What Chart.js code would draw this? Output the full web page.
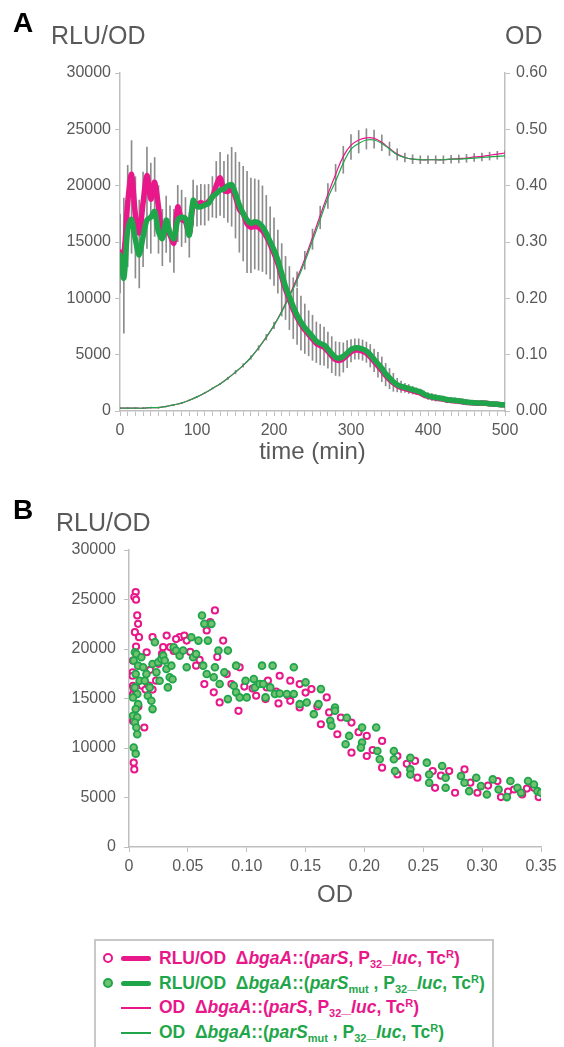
<!DOCTYPE html>
<html>
<head>
<meta charset="utf-8">
<script src="https://cdn.jsdelivr.net/npm/chart.js@4.4.0/dist/chart.umd.min.js"></script>
<style>
  body { margin: 0; background: #fff; width: 564px; height: 1047px; overflow: hidden; position: relative;
         font-family: "Liberation Sans", Arial, sans-serif; }
  canvas { position: absolute; left: 0; }
  #chartA { top: 0; }
  #chartB { top: 480px; }
  .lbl { position: absolute; white-space: nowrap; line-height: 1; }
  .panel { font-weight: bold; font-size: 28px; color: #000; }
  .ttl { font-size: 25px; color: #595959; }
  #legend { position: absolute; left: 94px; top: 939px; width: 400px; height: 130px;
            border: 2px solid #c8c8c8; box-sizing: border-box; background: #fff; }
  .row { position: absolute; left: 0; width: 396px; height: 24px; }
  .dot { position: absolute; left: 7px; top: 7px; width: 6px; height: 6px; border-radius: 50%; }
  .seg { position: absolute; left: 25px; width: 30px; }
  .txt { position: absolute; left: 63px; top: 0; line-height: 24px; font-size: 17.5px; font-weight: bold; white-space: nowrap; }
  .txt sub { font-size: 11px; vertical-align: -4px; line-height: 0; }
  .txt sup { font-size: 11px; vertical-align: 6px; line-height: 0; }
</style>
</head>
<body>
<canvas id="chartA" width="564" height="480"></canvas>
<canvas id="chartB" width="564" height="460"></canvas>

<div class="lbl panel" style="left:13px;top:9px;">A</div>
<div class="lbl ttl" style="left:51px;top:23px;">RLU/OD</div>
<div class="lbl ttl" style="left:505px;top:23px;">OD</div>
<div class="lbl panel" style="left:13px;top:496px;">B</div>
<div class="lbl ttl" style="left:56px;top:510px;">RLU/OD</div>

<div id="legend">
  <div class="row" style="top:5px;color:#e8178a;">
    <span class="dot" style="border:2px solid #e8178a;background:#fff;"></span>
    <span class="seg" style="top:10px;height:5px;background:#e8178a;border-radius:3px;"></span>
    <span class="txt">RLU/OD&nbsp;&nbsp;Δ<i>bgaA</i>::(<i>parS</i>, P<sub>32</sub>_<i>luc</i>, Tc<sup>R</sup>)</span>
  </div>
  <div class="row" style="top:30px;color:#1fa64a;">
    <span class="dot" style="border:2px solid #1fa64a;background:#72c272;"></span>
    <span class="seg" style="top:10px;height:5px;background:#1fa64a;border-radius:3px;"></span>
    <span class="txt">RLU/OD&nbsp;&nbsp;Δ<i>bgaA</i>::(<i>parS</i><sub>mut</sub> , P<sub>32</sub>_<i>luc</i>, Tc<sup>R</sup>)</span>
  </div>
  <div class="row" style="top:54px;color:#e8178a;">
    <span class="seg" style="top:12px;height:1.5px;background:#e8178a;"></span>
    <span class="txt">OD&nbsp;&nbsp;Δ<i>bgaA</i>::(<i>parS</i>, P<sub>32</sub>_<i>luc</i>, Tc<sup>R</sup>)</span>
  </div>
  <div class="row" style="top:79px;color:#1fa64a;">
    <span class="seg" style="top:12px;height:1.5px;background:#1fa64a;"></span>
    <span class="txt">OD&nbsp;&nbsp;Δ<i>bgaA</i>::(<i>parS</i><sub>mut</sub> , P<sub>32</sub>_<i>luc</i>, Tc<sup>R</sup>)</span>
  </div>
</div>

<script>
var PINK = "#e8178a";
var GREEN = "#1fa64a";
var AXIS = "#bfbfbf";
var LABEL = "#595959";

// panel A: time course, RLU/OD every 5 min
var times = [0, 5, 10, 15, 20, 25, 30, 35, 40, 45, 50, 55, 60, 65, 70, 75, 80, 85, 90, 95,
  100, 105, 110, 115, 120, 125, 130, 135, 140, 145, 150, 155, 160, 165, 170, 175, 180, 185, 190, 195,
  200, 205, 210, 215, 220, 225, 230, 235, 240, 245, 250, 255, 260, 265, 270, 275, 280, 285, 290, 295,
  300, 305, 310, 315, 320, 325, 330, 335, 340, 345, 350, 355, 360, 365, 370, 375, 380, 385, 390, 395,
  400, 405, 410, 415, 420, 425, 430, 435, 440, 445, 450, 455, 460, 465, 470, 475, 480, 485, 490, 495, 500];

var rluPink = [14100, 14000, 18500, 21000, 17400, 15800, 18500, 20900, 18800, 20300,
  18100, 15500, 16200, 15600, 14900, 18100, 17000, 16800, 15700, 18300,
  18300, 18500, 18300, 18600, 19000, 20000, 20700, 19600, 19500, 19700,
  19000, 17900, 17500, 16600, 16300, 16400, 16300, 16000, 15500, 14800,
  14000, 13100, 11900, 10800, 9900, 9000, 8300, 7700, 7200, 6800,
  6400, 6000, 5800, 5650, 5300, 4900, 4550, 4500, 4650, 4950,
  5250, 5400, 5400, 5300, 5120, 4800, 4400, 4000, 3600, 3150,
  2800, 2500, 2250, 2100, 2000, 1900, 1800, 1700, 1600, 1420,
  1300, 1220, 1150, 1100, 1050, 960, 940, 910, 870, 820,
  760, 740, 720, 680, 700, 680, 640, 610, 590, 560, 540];

var rluGreen = [13850, 11800, 16100, 17000, 15200, 13850, 15500, 16950, 17200, 17700,
  15900, 15300, 16950, 15800, 15300, 16950, 17200, 17100, 15600, 18700,
  18130, 18130, 18280, 18430, 19010, 19300, 19600, 19700, 20000, 20100,
  19300, 18280, 17540, 16950, 16660, 16800, 16700, 16360, 15770, 15030,
  14300, 13400, 12220, 11040, 10150, 9260, 8500, 7900, 7400, 7000,
  6600, 6200, 6000, 5850, 5500, 5100, 4750, 4700, 4850, 5150,
  5450, 5600, 5600, 5500, 5320, 5000, 4600, 4200, 3800, 3300,
  2950, 2600, 2350, 2200, 2100, 2000, 1900, 1800, 1700, 1500,
  1350, 1270, 1200, 1150, 1100, 1000, 980, 950, 900, 850,
  790, 760, 740, 700, 720, 690, 650, 620, 600, 560, 540];

// half length of the grey error bars
var rluErr = [3500, 6000, 4500, 5000, 4500, 3900, 4200, 4500, 4000, 3500,
  3000, 2500, 2500, 2500, 2800, 2500, 2500, 2000, 2000, 2000,
  1800, 1800, 1800, 1600, 1800, 2500, 2800, 2500, 3000, 3500,
  3800, 4000, 4200, 4500, 4200, 4000, 4000, 3800, 3500, 3200,
  3000, 2800, 2800, 2800, 2800, 2700, 2500, 2400, 2200, 2000,
  2000, 1800, 1800, 1700, 1600, 1600, 1500, 1500, 1300, 1200,
  1000, 900, 900, 900, 900, 1000, 1000, 1100, 1100, 1000,
  900, 800, 600, 500, 400, 400, 350, 300, 300, 300,
  300, 300, 300, 250, 250, 250, 250, 250, 250, 250,
  200, 200, 200, 200, 200, 200, 200, 200, 200, 200, 200];

// OD every 10 min
var odTimes = [0, 10, 20, 30, 40, 50, 60, 70, 80, 90, 100, 110, 120, 130, 140, 150, 160, 170, 180, 190,
  200, 210, 220, 230, 240, 250, 260, 270, 280, 290, 300, 310, 320, 330, 340, 350, 360, 370, 380, 390,
  400, 410, 420, 430, 440, 450, 460, 470, 480, 490, 500];

var odPink = [0.005, 0.005, 0.005, 0.005, 0.006, 0.006, 0.008, 0.011, 0.014, 0.019,
  0.025, 0.032, 0.040, 0.048, 0.058, 0.069, 0.081, 0.095, 0.112, 0.131,
  0.152, 0.177, 0.205, 0.236, 0.270, 0.308, 0.347, 0.385, 0.420, 0.452,
  0.472, 0.481, 0.485, 0.484, 0.477, 0.466, 0.456, 0.450, 0.447, 0.446,
  0.446, 0.446, 0.446, 0.447, 0.448, 0.449, 0.451, 0.452, 0.454, 0.456, 0.458];

var odGreen = [0.005, 0.005, 0.005, 0.005, 0.006, 0.006, 0.008, 0.011, 0.014, 0.019,
  0.025, 0.032, 0.040, 0.048, 0.058, 0.069, 0.081, 0.095, 0.112, 0.131,
  0.152, 0.176, 0.203, 0.232, 0.265, 0.302, 0.340, 0.378, 0.408, 0.440,
  0.465, 0.475, 0.481, 0.481, 0.475, 0.465, 0.455, 0.450, 0.447, 0.446,
  0.446, 0.446, 0.446, 0.447, 0.447, 0.448, 0.449, 0.450, 0.451, 0.452, 0.453];

var odErr = [0.001, 0.001, 0.001, 0.001, 0.001, 0.001, 0.001, 0.001, 0.001, 0.001,
  0.001, 0.001, 0.001, 0.001, 0.002, 0.003, 0.003, 0.003, 0.004, 0.005,
  0.006, 0.008, 0.010, 0.013, 0.016, 0.018, 0.020, 0.022, 0.024, 0.024,
  0.022, 0.020, 0.018, 0.016, 0.014, 0.012, 0.010, 0.008, 0.008, 0.007,
  0.007, 0.007, 0.007, 0.007, 0.007, 0.007, 0.007, 0.007, 0.007, 0.007, 0.007];

// panel B: [OD, RLU/OD] pairs
var bPink = [[0.0057, 25760], [0.0045, 25250], [0.006, 24980], [0.007, 23390], [0.0077, 22540], [0.005, 21700],
  [0.0085, 21190], [0.006, 20250], [0.0034, 18830], [0.003, 17640], [0.0034, 16290], [0.0034, 15450],
  [0.0034, 12740], [0.004, 8520], [0.0045, 7840], [0.013, 12070], [0.015, 19670], [0.02, 21190],
  [0.032, 21360], [0.029, 20180], [0.035, 20180], [0.043, 21190], [0.047, 21360], [0.049, 20850],
  [0.057, 18320], [0.064, 16460], [0.066, 21870], [0.069, 22710], [0.073, 23900], [0.072, 15620],
  [0.077, 14600], [0.08, 20850], [0.083, 17470], [0.087, 16460], [0.093, 13760], [0.094, 18150],
  [0.108, 15280], [0.116, 14940], [0.117, 16120], [0.118, 16800], [0.127, 14500], [0.128, 17300],
  [0.137, 14770], [0.137, 16800], [0.145, 14100], [0.145, 16460], [0.155, 15950], [0.163, 12400],
  [0.168, 15110], [0.17, 13590], [0.177, 11390], [0.18, 13080], [0.189, 12570], [0.189, 9530],
  [0.202, 9190], [0.202, 11220], [0.215, 10710], [0.215, 8010], [0.228, 7330], [0.228, 9190],
  [0.243, 8690], [0.245, 7000], [0.258, 7670], [0.26, 5980], [0.272, 7670], [0.277, 5480],
  [0.285, 7840], [0.296, 5480], [0.313, 6660], [0.316, 5040], [0.327, 5810], [0.334, 5310],
  [0.344, 5980], [0.348, 5040], [0.003, 17300], [0.004, 16000], [0.006, 15500], [0.008, 14200],
  [0.010, 16700], [0.011, 16300], [0.014, 15900], [0.017, 16300], [0.020, 15900], [0.023, 16800],
  [0.018, 17900], [0.025, 18500], [0.028, 19500], [0.038, 19800], [0.040, 21000], [0.052, 19700],
  [0.060, 18900], [0.075, 19200], [0.098, 16200], [0.105, 16000], [0.125, 15700], [0.135, 15300],
  [0.150, 15600], [0.160, 14200], [0.195, 11600], [0.207, 9800], [0.236, 8400], [0.265, 7200],
  [0.290, 6500], [0.305, 6200], [0.322, 5600], [0.338, 5900]];

var bGreen = [[0.005, 19670], [0.0063, 19500], [0.004, 18830], [0.0077, 18320], [0.0057, 17470], [0.009, 16800],
  [0.005, 16120], [0.007, 15450], [0.0034, 15110], [0.0077, 14430], [0.0057, 13930], [0.0034, 13250],
  [0.007, 13100], [0.005, 12570], [0.0063, 12070], [0.007, 11390], [0.004, 10040], [0.0057, 9430],
  [0.0105, 19160], [0.012, 18150], [0.0134, 16800], [0.0148, 17470], [0.016, 15280], [0.0176, 16120],
  [0.019, 14770], [0.02, 13930], [0.02, 18490], [0.022, 20690], [0.0233, 17640], [0.0247, 18660],
  [0.026, 16800], [0.0275, 19000], [0.029, 19330], [0.0304, 18830], [0.0318, 17980], [0.033, 16120],
  [0.0346, 17140], [0.036, 18320], [0.037, 16950], [0.038, 20180], [0.040, 19840], [0.043, 19330],
  [0.046, 19840], [0.049, 18150], [0.053, 21190], [0.0545, 19160], [0.059, 20850], [0.057, 19500],
  [0.062, 23390], [0.064, 22540], [0.070, 22540], [0.067, 20850], [0.063, 18320], [0.066, 17470],
  [0.072, 17140], [0.073, 18150], [0.077, 16460], [0.076, 19840], [0.084, 19840], [0.081, 17640],
  [0.084, 14940], [0.089, 16290], [0.091, 18320], [0.091, 15620], [0.094, 15110], [0.099, 16800],
  [0.100, 15110], [0.106, 16970], [0.107, 16120], [0.111, 16460], [0.113, 18320], [0.114, 16460],
  [0.116, 15110], [0.120, 16120], [0.122, 18320], [0.124, 15450], [0.128, 15510], [0.134, 15450],
  [0.140, 18150], [0.140, 15450], [0.145, 14430], [0.150, 16630], [0.151, 14600], [0.157, 13420],
  [0.161, 14430], [0.163, 15950], [0.171, 12740], [0.172, 12240], [0.175, 14090], [0.175, 13760],
  [0.185, 13050], [0.187, 11220], [0.184, 10380], [0.198, 12070], [0.198, 10550], [0.197, 10040],
  [0.210, 12070], [0.211, 9700], [0.213, 8860], [0.225, 9700], [0.225, 8860], [0.226, 7670],
  [0.239, 9020], [0.239, 7840], [0.239, 7330], [0.253, 8520], [0.255, 7330], [0.255, 6490],
  [0.266, 8180], [0.269, 7000], [0.269, 5980], [0.282, 7170], [0.285, 6490], [0.289, 5640],
  [0.295, 7000], [0.299, 6150], [0.304, 5310], [0.309, 6830], [0.314, 5810], [0.321, 5040],
  [0.324, 6660], [0.330, 5980], [0.333, 5480], [0.339, 6660], [0.344, 6320], [0.347, 5640],
  [0.350, 5480]];

Chart.defaults.font.family = '"Liberation Sans", Arial, sans-serif';
Chart.defaults.color = LABEL;

function pts(xs, ys) {
  return xs.map(function (x, i) { return { x: x, y: ys[i] }; });
}
// floating bars around the mean of both strains
function errBars(xs, a, b, err) {
  return xs.map(function (x, i) {
    var m = (a[i] + b[i]) / 2;
    return { x: x, y: [m - err[i], m + err[i]] };
  });
}
function axisGrid() {
  return { drawOnChartArea: false, drawTicks: true, tickLength: 5, color: AXIS, offset: false };
}
function plain(v) { return String(v); }
var tickFont = { size: 16 };

new Chart(document.getElementById("chartA"), {
  type: "line",
  data: {
    datasets: [
      { type: "bar", data: errBars(times, rluGreen, rluPink, rluErr), xAxisID: "x", yAxisID: "yL",
        backgroundColor: "#8c8c8c", barThickness: 1, grouped: false, order: 10 },
      { type: "bar", data: errBars(odTimes, odGreen, odPink, odErr), xAxisID: "x", yAxisID: "yR",
        backgroundColor: "#8c8c8c", barThickness: 1, grouped: false, order: 9 },
      { data: pts(odTimes, odPink), yAxisID: "yR", borderColor: PINK, borderWidth: 1.2,
        pointRadius: 0, tension: 0.4, order: 4 },
      { data: pts(odTimes, odGreen), yAxisID: "yR", borderColor: GREEN, borderWidth: 1.2,
        pointRadius: 0, tension: 0.4, order: 3 },
      { data: pts(times, rluPink), yAxisID: "yL", borderColor: PINK, borderWidth: 5.5,
        pointRadius: 0, tension: 0.3, borderJoinStyle: "round", borderCapStyle: "round", order: 2 },
      { data: pts(times, rluGreen), yAxisID: "yL", borderColor: GREEN, borderWidth: 5.5,
        pointRadius: 0, tension: 0.3, borderJoinStyle: "round", borderCapStyle: "round", order: 1 }
    ]
  },
  options: {
    responsive: false,
    animation: false,
    events: [],
    layout: { padding: { top: 73, left: 0, right: 0, bottom: 0 } },
    plugins: { legend: { display: false }, tooltip: { enabled: false } },
    scales: {
      x: {
        type: "linear", min: 0, max: 500, offset: false,
        ticks: { stepSize: 10, autoSkip: false, maxRotation: 0, font: tickFont, color: LABEL, padding: 5,
          callback: function (v) { return v % 100 === 0 ? String(v) : ""; } },
        grid: axisGrid(),
        border: { color: AXIS, width: 1.5 },
        title: { display: true, text: "time (min)", font: { size: 24 }, color: LABEL, padding: { top: 0, bottom: 13 } },
        afterFit: function (s) { s.height = 69; }
      },
      yL: {
        type: "linear", position: "left", min: 0, max: 30000,
        ticks: { stepSize: 5000, font: tickFont, color: LABEL, padding: 4, callback: plain },
        grid: axisGrid(),
        border: { color: AXIS, width: 1.5 },
        afterFit: function (s) { s.width = 120; }
      },
      yR: {
        type: "linear", position: "right", min: 0, max: 0.6,
        ticks: { stepSize: 0.1, font: tickFont, color: LABEL, padding: 6,
          callback: function (v) { return v.toFixed(2); } },
        grid: axisGrid(),
        border: { color: AXIS, width: 1.5 },
        afterFit: function (s) { s.width = 59; }
      }
    }
  }
});

new Chart(document.getElementById("chartB"), {
  type: "scatter",
  data: {
    datasets: [
      { data: bGreen.map(function (p) { return { x: p[0], y: p[1] }; }),
        pointRadius: 3.4, borderWidth: 1.8, backgroundColor: "#72c272", borderColor: GREEN, order: 1 },
      { data: bPink.map(function (p) { return { x: p[0], y: p[1] }; }),
        pointRadius: 3.1, borderWidth: 2, backgroundColor: "#ffffff", borderColor: PINK, order: 2 }
    ]
  },
  options: {
    responsive: false,
    animation: false,
    events: [],
    layout: { padding: { top: 70, left: 0, right: 23, bottom: 0 } },
    plugins: { legend: { display: false }, tooltip: { enabled: false } },
    scales: {
      x: {
        type: "linear", min: 0, max: 0.35,
        ticks: { stepSize: 0.05, autoSkip: false, maxRotation: 0, font: tickFont, color: LABEL, padding: 5,
          callback: function (v) { return v === 0 ? "0" : v.toFixed(2); } },
        grid: axisGrid(),
        border: { color: AXIS, width: 1.5 },
        title: { display: true, text: "OD", font: { size: 24 }, color: LABEL, padding: { top: 0, bottom: 30 } },
        afterFit: function (s) { s.height = 93; }
      },
      y: {
        type: "linear", min: 0, max: 30000,
        ticks: { stepSize: 5000, font: tickFont, color: LABEL, padding: 8, callback: plain },
        grid: axisGrid(),
        border: { color: AXIS, width: 1.5 },
        afterFit: function (s) { s.width = 129; }
      }
    }
  }
});
</script>
</body>
</html>
